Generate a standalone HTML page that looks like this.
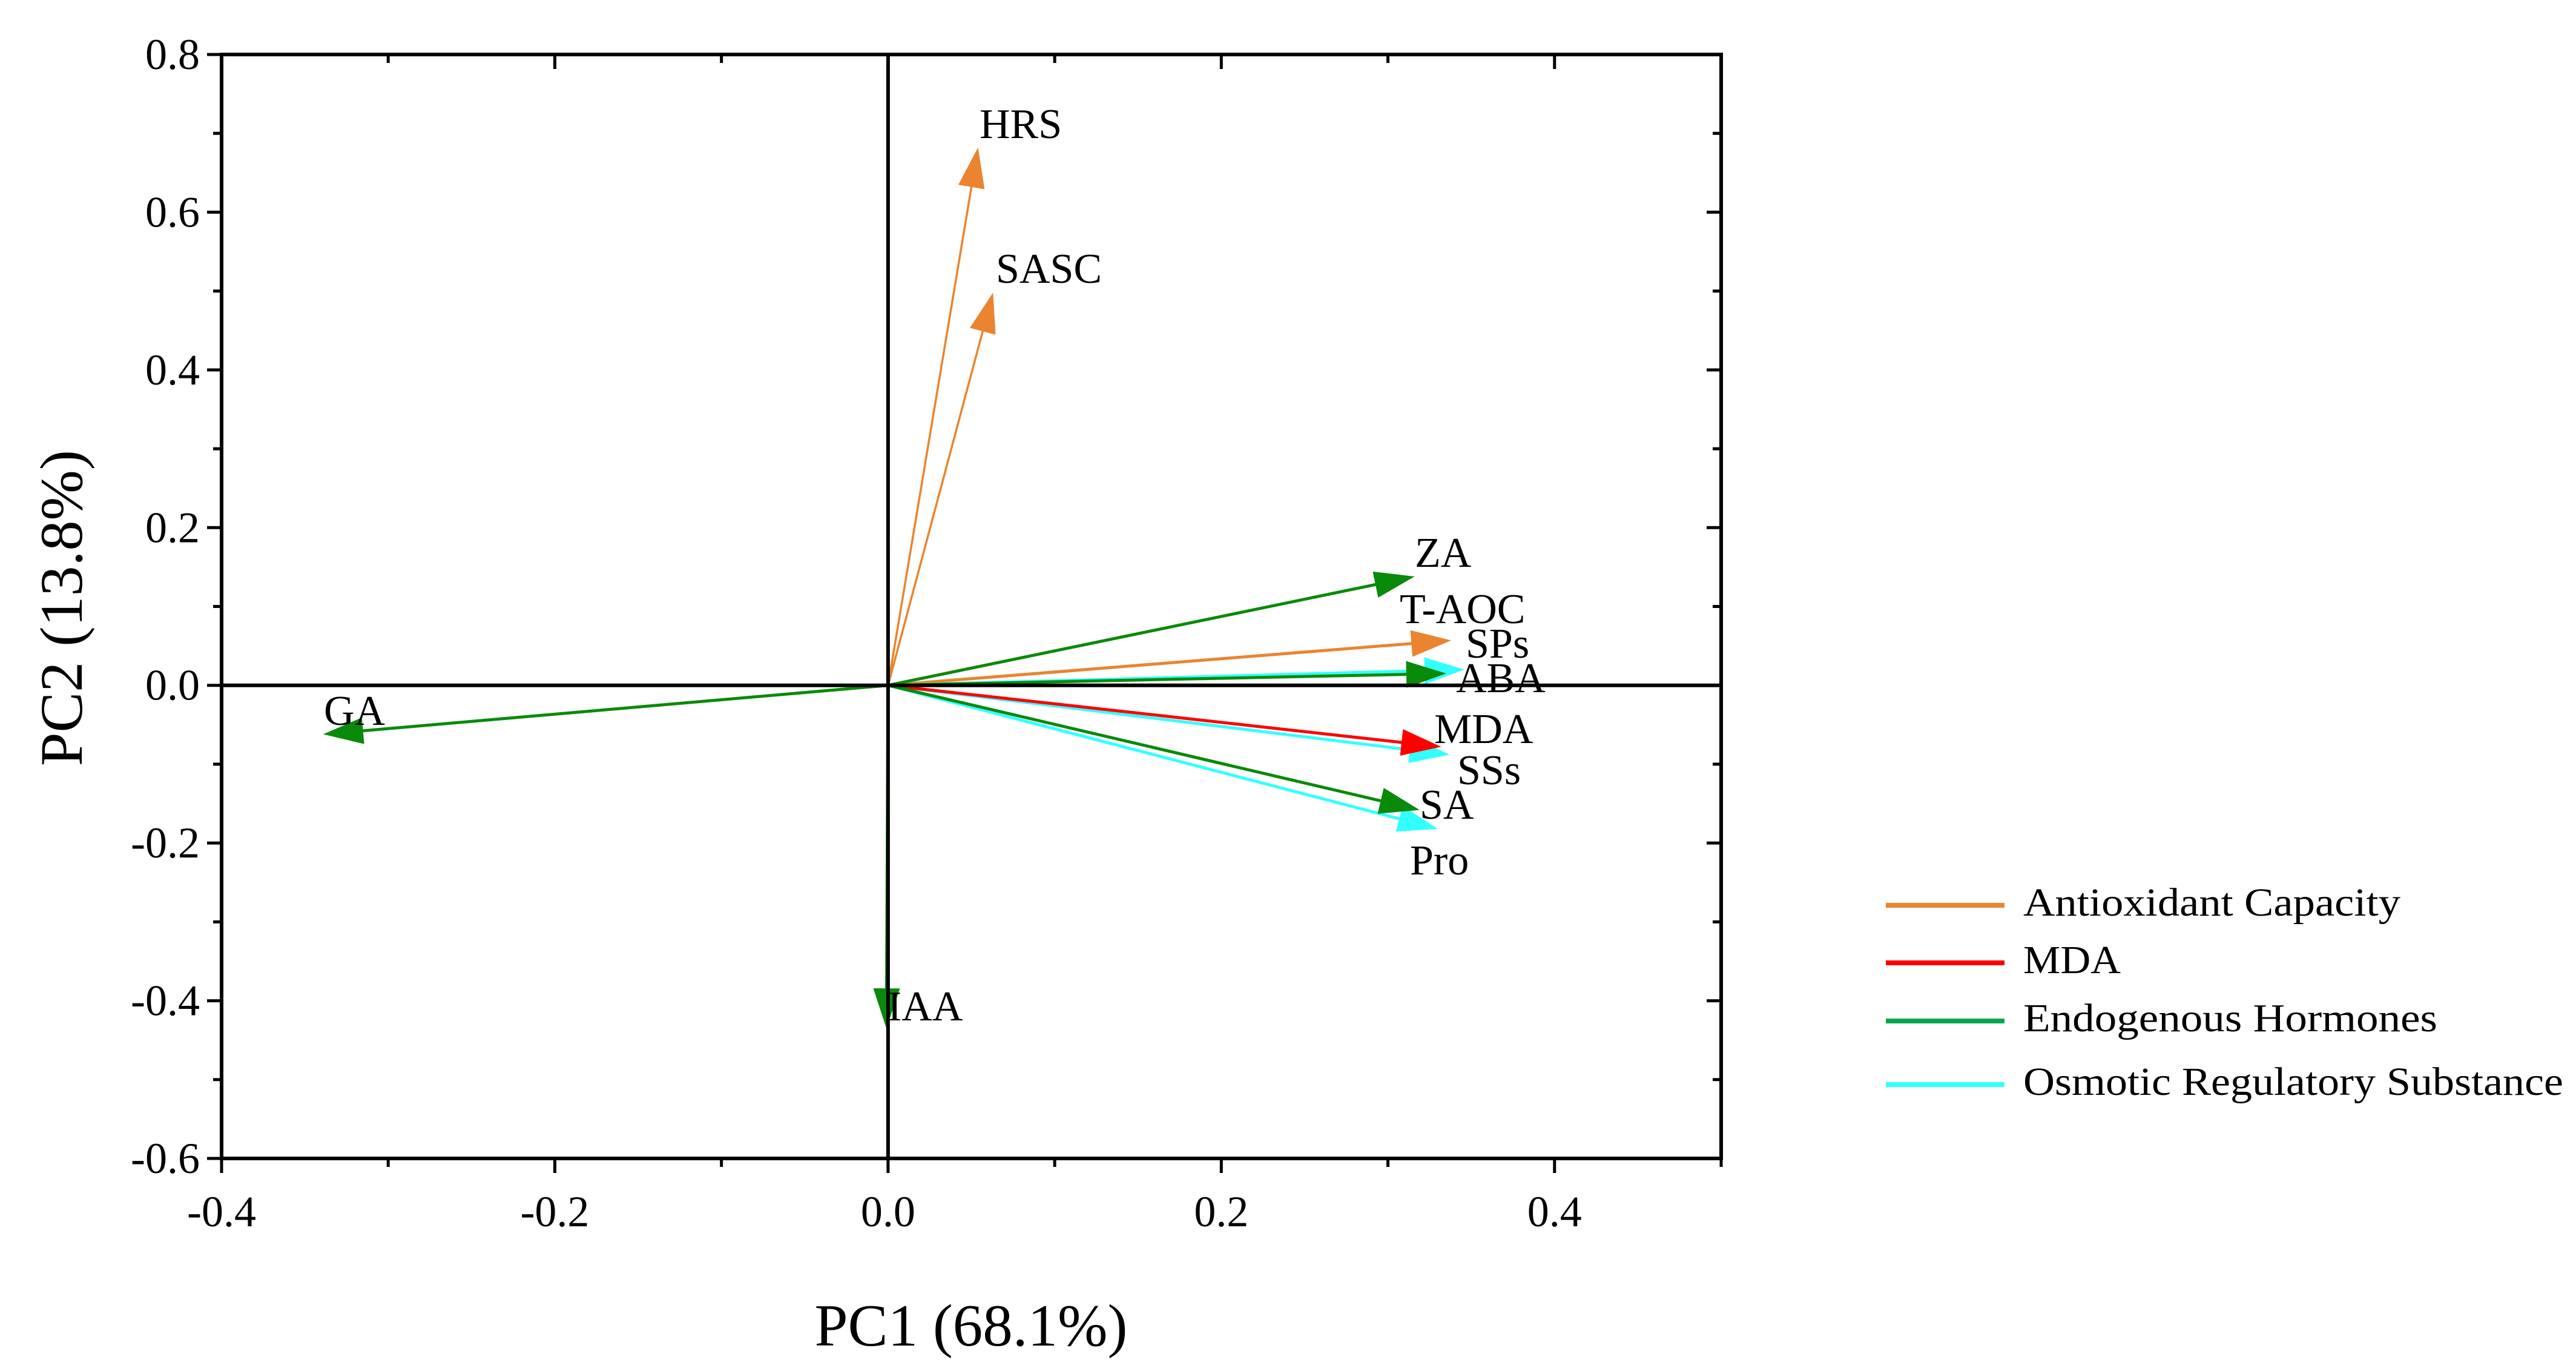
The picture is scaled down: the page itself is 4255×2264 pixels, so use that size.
<!DOCTYPE html>
<html><head><meta charset="utf-8"><style>
html,body{margin:0;padding:0;background:#fff;}
svg{display:block;font-family:"Liberation Serif",serif;}
</style></head><body>
<svg id="chart" width="4255" height="2264" viewBox="0 0 4255 2264" xmlns="http://www.w3.org/2000/svg">
<rect x="0" y="0" width="4255" height="2264" fill="#fff"/>
<g id="grid"></g>
<g id="vectors"></g>
<g id="labels"></g>
<g id="axes"></g>
<g id="legend"></g>
<text x="1604" y="2222" font-size="99" text-anchor="middle">PC1 (68.1%)</text>
<text transform="translate(135,1004) rotate(-90)" font-size="100" text-anchor="middle">PC2 (13.8%)</text>
</svg>
<script>
const variables = ["HRS","SASC","ZA","T-AOC","ABA","ABA-osm","MDA","SSs","SA","Pro","GA","IAA"];
const pc1 = [0.054,0.063,0.316,0.338,0.335,0.346,0.332,0.337,0.319,0.330,-0.339,-0.001];
const pc2 = [0.682,0.498,0.138,0.057,0.015,0.020,-0.078,-0.088,-0.158,-0.182,-0.062,-0.435];
const groups = [0,0,2,0,2,3,1,3,2,3,2,2];
const groupNames = ["Antioxidant Capacity","MDA","Endogenous Hormones","Osmotic Regulatory Substance"];
const xTicks = [-0.4,-0.2,0.0,0.2,0.4];
const yTicks = [0.8,0.6,0.4,0.2,0.0,-0.2,-0.4,-0.6];
const xTickLabels = ["-0.4","-0.2","0.0","0.2","0.4"];
const yTickLabels = ["0.8","0.6","0.4","0.2","0.0","-0.2","-0.4","-0.6"];
const labelTexts = ["HRS","SASC","ZA","T-AOC","ABA","SPs","MDA","SSs","SA","Pro","GA","IAA"];

const NS="http://www.w3.org/2000/svg";
const L=366,R=2843,T=90,B=1913;
const xMin=-0.4,xMax=0.5,yMin=-0.6,yMax=0.8;
const X=v=>L+(v-xMin)/(xMax-xMin)*(R-L);
const Y=v=>B-(v-yMin)/(yMax-yMin)*(B-T);
const colors=["#EA8430","#FF0000","#0A8A0A","#33FFFF"];
const legendColors=["#EA8430","#FF0000","#00A84F","#33FFFF"];
function mk(tag,parent,attrs){const e=document.createElementNS(NS,tag);for(const k in attrs)e.setAttribute(k,attrs[k]);parent.appendChild(e);return e;}

const axes=document.getElementById('axes');
let f=mk('rect',axes,{x:L,y:T,width:R-L,height:B-T,fill:'none',stroke:'#000','stroke-width':6});


let zx=mk('line',axes,{x1:L,x2:R,y1:Y(0),y2:Y(0),stroke:'#000','stroke-width':6});


let zy=mk('line',axes,{x1:X(0),x2:X(0),y1:T,y2:B,stroke:'#000','stroke-width':6});


for(let v=-0.4;v<=0.5001;v+=0.1){
  const major=Math.abs(Math.round(v*10)%2)===0;
  const len=major?24:14;
  let t=mk('line',axes,{x1:X(v),x2:X(v),y1:B,y2:B+len,stroke:'#000','stroke-width':5});
  
  
  let t2=mk('line',axes,{x1:X(v),x2:X(v),y1:T,y2:T+len,stroke:'#000','stroke-width':5});
  
  
}
for(let v=-0.6;v<=0.8001;v+=0.1){
  const major=Math.abs(Math.round(v*10)%2)===0;
  const len=major?24:14;
  let t=mk('line',axes,{x1:L-len,x2:L,y1:Y(v),y2:Y(v),stroke:'#000','stroke-width':5});
  
  
  let t2=mk('line',axes,{x1:R-len,x2:R,y1:Y(v),y2:Y(v),stroke:'#000','stroke-width':5});
  
  
}
xTicks.forEach((v,i)=>{
  let t=mk('text',axes,{x:X(v),y:B+112,'font-size':72,'text-anchor':'middle'});
  t.textContent=xTickLabels[i];
  
  
});
yTicks.forEach((v,i)=>{
  let t=mk('text',axes,{x:L-36,y:Y(v)+24,'font-size':72,'text-anchor':'end'});
  t.textContent=yTickLabels[i];
  
  
});

const vg=document.getElementById('vectors');
const order=[0,1,3,2,5,4,7,6,9,8,10,11];
order.forEach(i=>{
  const x0=X(0),y0=Y(0),x1=X(pc1[i]),y1=Y(pc2[i]);
  const dx=x1-x0,dy=y1-y0,len=Math.hypot(dx,dy),ux=dx/len,uy=dy/len;
  const hl=66,hw=22;
  const bx=x1-ux*hl,by=y1-uy*hl;
  const c=colors[groups[i]];
  const g=mk('g',vg,{});
  
  
  const sw=(i<2)?3.5:5;
  mk('line',g,{x1:x0,y1:y0,x2:bx+ux*5,y2:by+uy*5,stroke:c,'stroke-width':sw});
  mk('polygon',g,{points:`${x1},${y1} ${bx-uy*hw},${by+ux*hw} ${bx+uy*hw},${by-ux*hw}`,fill:c});
});

const labelPos=[[1618,228],[1645,467],[2337,936],[2312,1029],[2405,1143],[2421,1086],[2369,1227],[2407,1295],[2345,1352],[2329,1444],[535,1197],[1466,1685]];
const lg=document.getElementById('labels');
labelTexts.forEach((s,i)=>{
  let t=mk('text',lg,{x:labelPos[i][0],y:labelPos[i][1],'font-size':70});
  t.textContent=s;
  
  
});

const leg=document.getElementById('legend');
const legY=[1495,1590,1686,1791];
const legW=[623,161,684,892];
groupNames.forEach((n,i)=>{
  const g=mk('g',leg,{});
  
  
  mk('line',g,{x1:3115,x2:3311,y1:legY[i],y2:legY[i],stroke:legendColors[i],'stroke-width':8});
  let t=mk('text',g,{x:3342,y:legY[i]+17,'font-size':66,textLength:legW[i],lengthAdjust:'spacingAndGlyphs'});
  t.textContent=n;
});
</script>
</body></html>
